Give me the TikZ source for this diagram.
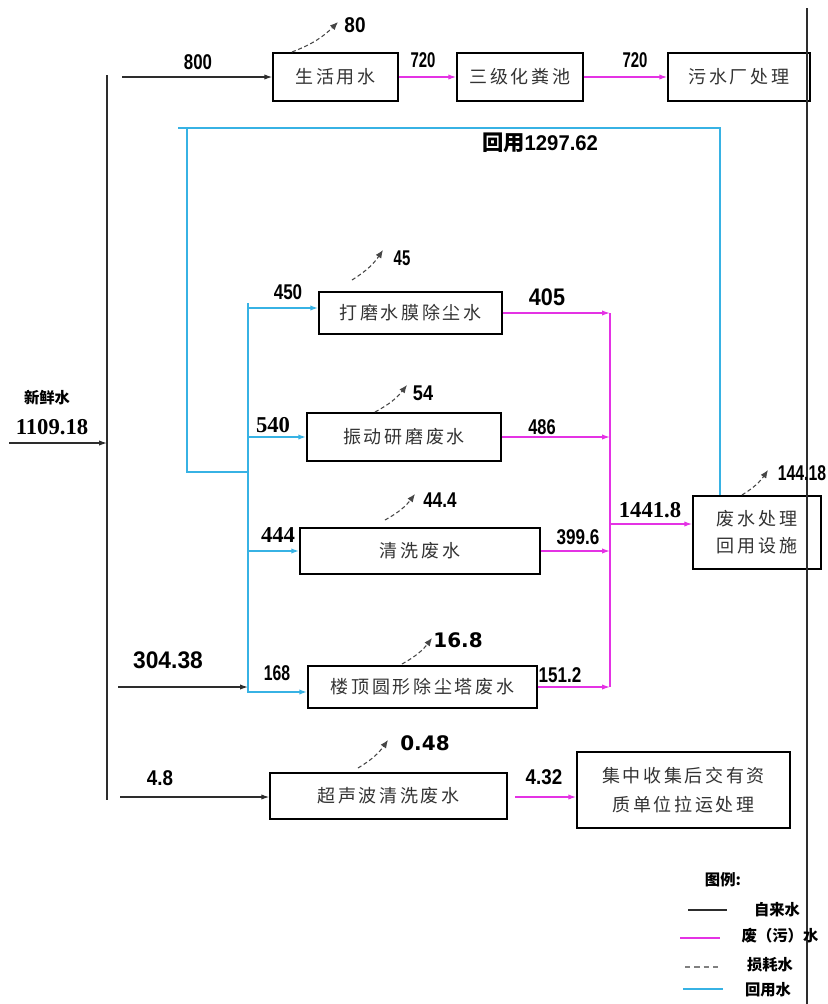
\documentclass[tikz,border=0pt]{standalone}
\usepackage{fontspec}
\usepackage{graphicx}
\usetikzlibrary{arrows.meta}
\newfontfamily\cjk{Noto Sans CJK SC}
\newfontfamily\cjkbox[LetterSpace=15]{Noto Sans CJK SC}
\newfontfamily\numsans{Liberation Sans}
\newfontfamily\numserif{Liberation Serif}
\newfontfamily\numwide{DejaVu Sans}
\newcommand{\cnum}[2][0.8]{\scalebox{#1}[1]{\numsans\bfseries #2}}
\definecolor{freshc}{RGB}{45,45,45}
\definecolor{wastec}{RGB}{228,50,228}
\definecolor{reusec}{RGB}{55,178,228}
\definecolor{lossc}{RGB}{70,70,70}
\tikzset{
  box/.style={draw=black, line width=1.1pt, inner sep=0pt, font=\cjkbox\fontsize{13.5}{22}\selectfont, text=black!80},
  tip/.style={-{Latex[length=6pt,width=4pt]}},
  fresh/.style={draw=freshc, line width=0.9pt},
  waste/.style={draw=wastec, line width=1pt},
  reuse/.style={draw=reusec, line width=1.4pt},
  loss/.style={draw=lossc, line width=0.8pt, dash pattern=on 3pt off 2pt, -{Latex[length=6pt,width=5pt]}},
  cond/.style={inner sep=0pt, font=\fontsize{16}{16}\selectfont},
  condb/.style={inner sep=0pt, font=\fontsize{18}{18}\selectfont},
  serifn/.style={inner sep=0pt, font=\numserif\bfseries\fontsize{17}{17}\selectfont},
  widen/.style={inner sep=0pt, font=\numwide\bfseries\fontsize{15}{15}\selectfont},
  legtxt/.style={inner sep=0pt, font=\cjk\bfseries\fontsize{11.5}{12}\selectfont},
}
\begin{document}
\begin{tikzpicture}[x=0.75pt,y=-0.75pt]
\useasboundingbox[fill=white] (0,0) rectangle (828,1004);

% boxes
\node[box, minimum width=93.75pt, minimum height=36pt] (b1) at (335.5,77) {生活用水};
\node[box, minimum width=94.5pt, minimum height=36pt] (b2) at (520,77) {三级化粪池};
\node[box, minimum width=106.5pt, minimum height=36pt] (b3) at (739,77) {污水厂处理};
\node[box, minimum width=137.25pt, minimum height=31.5pt] (b4) at (410.5,313) {打磨水膜除尘水};
\node[box, minimum width=145.5pt, minimum height=36pt] (b5) at (404,437) {振动研磨废水};
\node[box, minimum width=180pt, minimum height=34.5pt] (b6) at (420,551) {清洗废水};
\node[box, minimum width=171.75pt, minimum height=31.5pt] (b7) at (422.5,687) {楼顶圆形除尘塔废水};
\node[box, minimum width=177.75pt, minimum height=34.5pt] (b8) at (388.5,796) {超声波清洗废水};
\node[box, minimum width=159.75pt, minimum height=57pt, align=center] (b9) at (683.5,790) {集中收集后交有资\\质单位拉运处理};
\node[box, minimum width=96pt, minimum height=54.75pt, align=center, font=\cjkbox\fontsize{13.5}{20}\selectfont] (b10) at (757,532.5) {废水处理\\回用设施};

% fresh water (black)
\coordinate (Ltop) at (107,75); \coordinate (Lbot) at (107,800);
\draw[fresh] (Ltop) -- (Lbot);
\coordinate (Rtop) at (807,8); \coordinate (Rbot) at (807,1004);
\draw[fresh, line width=1.3pt] (Rtop) -- (Rbot);
\coordinate (fwS) at (9,443); \coordinate (fwE) at (107,443);
\draw[fresh, tip] (fwS) -- (fwE);
\coordinate (s800) at (122,77);
\draw[fresh, tip] (s800) -- (b1.west);
\coordinate (s304) at (118,687); \coordinate (e304) at (248,687);
\draw[fresh, tip] (s304) -- (e304);
\coordinate (s48) at (120,797);
\draw[fresh, tip] (s48) -- (b8.west |- s48);

% waste water (magenta)
\draw[waste, tip] (b1.east) -- (b2.west);
\draw[waste, tip] (b2.east) -- (b3.west);
\coordinate (m1) at (610,313); \coordinate (m2) at (610,437);
\coordinate (m3) at (610,551); \coordinate (m4) at (610,687);
\coordinate (mo) at (610,524);
\draw[waste] (m1) -- (m4);
\draw[waste, tip] (b4.east) -- (m1);
\draw[waste, tip] (b5.east) -- (m2);
\draw[waste, tip] (b6.east) -- (m3);
\draw[waste, tip] (b7.east) -- (m4);
\draw[waste, tip] (mo) -- (b10.west |- mo);
\coordinate (s432) at (515,797);
\draw[waste, tip] (s432) -- (b9.west |- s432);

% reuse water (cyan)
\coordinate (c1) at (178,128); \coordinate (c2) at (720,128);
\coordinate (c3) at (187,128); \coordinate (c4) at (187,472); \coordinate (c5) at (248,472);
\coordinate (c6) at (248,303); \coordinate (c7) at (248,692);
\draw[reuse] (c1) -- (c2) -- (b10.north -| c2);
\draw[reuse] (c3) -- (c4) -- (c5);
\draw[reuse, tip] (c6) -- (c7) -- (b7.west |- c7);
\coordinate (k1) at (248,308); \coordinate (k2) at (248,437); \coordinate (k3) at (248,551);
\draw[reuse, tip] (k1) -- (b4.west |- k1);
\draw[reuse, tip] (k2) -- (b5.west |- k2);
\draw[reuse, tip] (k3) -- (b6.west |- k3);

% losses
\coordinate (l1a) at (292,52); \coordinate (l1b) at (338,22);
\draw[loss] (l1a) to[bend right=12] (l1b);
\coordinate (l2a) at (352,280); \coordinate (l2b) at (383,250);
\draw[loss] (l2a) to[bend right=12] (l2b);
\coordinate (l3a) at (375,412); \coordinate (l3b) at (407,385);
\draw[loss] (l3a) to[bend right=12] (l3b);
\coordinate (l4a) at (385,520); \coordinate (l4b) at (415,494);
\draw[loss] (l4a) to[bend right=12] (l4b);
\coordinate (l5a) at (402,664); \coordinate (l5b) at (432,638);
\draw[loss] (l5a) to[bend right=12] (l5b);
\coordinate (l6a) at (358,768); \coordinate (l6b) at (388,740);
\draw[loss] (l6a) to[bend right=12] (l6b);
\coordinate (l7a) at (742,495); \coordinate (l7b) at (768,470);
\draw[loss] (l7a) to[bend right=12] (l7b);

% numbers
\node[cond] (n800) at (198,62) {\cnum[0.79]{800}};
\node[cond] (n720a) at (423,60) {\cnum[0.7]{720}};
\node[cond] (n720b) at (635,60) {\cnum[0.7]{720}};
\node[cond] (n80) at (355,25) {\cnum[0.89]{80}};
\node[cond] (n45) at (402,258) {\cnum[0.7]{45}};
\node[cond] (n54) at (423,393) {\cnum[0.85]{54}};
\node[cond] (n444l) at (440,500) {\cnum{44.4}};
\node[widen] (n168l) at (458,640) {16.8};
\node[widen] (n048) at (425,743) {0.48};
\node[cond] (n14418) at (802,473) {\cnum[0.74]{144.18}};
\node[cond] (nre) at (540,143) {\cjk\bfseries 回用\cnum[0.95]{1297.62}};
\node[legtxt] (nfw) at (47,398) {新鲜水};
\node[serifn] (n110918) at (52,427) {1109.18};
\node[cond] (n450) at (288,292) {\cnum{450}};
\node[serifn] (n540) at (273,425) {540};
\node[serifn] (n444) at (278,535) {444};
\node[cond] (n168) at (277,673) {\cnum[0.74]{168}};
\node[condb] (n30438) at (168,660) {\cnum[0.95]{304.38}};
\node[cond] (n48) at (160,778) {\cnum[0.88]{4.8}};
\node[condb] (n405) at (547,297) {\cnum[0.9]{405}};
\node[cond] (n486) at (542,427) {\cnum[0.77]{486}};
\node[cond] (n3996) at (578,537) {\cnum{399.6}};
\node[cond] (n1512) at (560,675) {\cnum[0.8]{151.2}};
\node[cond] (n432) at (544,777) {\cnum[0.88]{4.32}};
\node[serifn] (n14418b) at (650,510) {1441.8};

% legend
\node[legtxt] (lgt) at (723,880) {图例:};
\coordinate (g1a) at (688,910); \coordinate (g1b) at (727,910);
\draw[fresh] (g1a) -- (g1b);
\node[legtxt] (g1t) at (777,910) {自来水};
\coordinate (g2a) at (680,938); \coordinate (g2b) at (720,938);
\draw[waste] (g2a) -- (g2b);
\node[legtxt] (g2t) at (780,936) {废（污）水};
\coordinate (g3a) at (685,967); \coordinate (g3b) at (720,967);
\draw[draw=gray, line width=0.9pt, dash pattern=on 4pt off 3pt] (g3a) -- (g3b);
\node[legtxt] (g3t) at (770,965) {损耗水};
\coordinate (g4a) at (683,989); \coordinate (g4b) at (723,989);
\draw[reuse] (g4a) -- (g4b);
\node[legtxt] (g4t) at (768,990) {回用水};
\end{tikzpicture}
\end{document}
